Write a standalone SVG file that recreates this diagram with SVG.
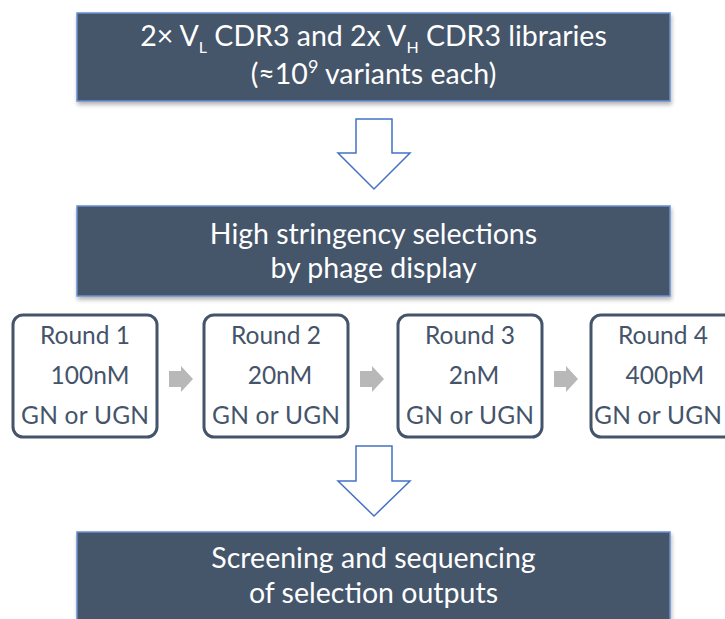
<svg xmlns="http://www.w3.org/2000/svg" width="725" height="619" viewBox="0 0 725 619">
<defs>
<style>
.hdr{fill:#44546A;stroke:#6A8FD0;stroke-width:1.5}
.ht{font-family:Lato,"Open Sans",sans-serif;font-size:28.5px;fill:#FFFFFF;text-anchor:middle}
.rb{fill:#FFFFFF;stroke:#44546A;stroke-width:3}
.rt{font-family:Lato,"Open Sans",sans-serif;font-size:24.5px;fill:#44546A;text-anchor:middle}
.down{fill:#FFFFFF;stroke:#4472C4;stroke-width:1.5;stroke-linejoin:miter}
.ga{fill:#B8B8B8}
</style>
<filter id="sh" x="-5%" y="-10%" width="110%" height="130%">
<feGaussianBlur in="SourceAlpha" stdDeviation="2"/>
<feOffset dx="1" dy="3" result="b"/>
<feComponentTransfer><feFuncA type="linear" slope="0.3"/></feComponentTransfer>
<feMerge><feMergeNode/><feMergeNode in="SourceGraphic"/></feMerge>
</filter>
</defs>
<rect width="725" height="619" fill="#FFFFFF"/>

<g id="libraries">
<rect class="hdr" x="77" y="13" width="593" height="88" filter="url(#sh)"/>
<text class="ht" x="373.5" y="46">2× V<tspan font-size="16" dy="7">L</tspan><tspan dy="-7"> CDR3 and 2x V</tspan><tspan font-size="16" dy="7">H</tspan><tspan dy="-7"> CDR3 libraries</tspan></text>
<text class="ht" x="373.5" y="84">(≈10<tspan font-size="18" dy="-11">9</tspan><tspan dy="11"> variants each)</tspan></text>
</g>

<g id="selections">
<rect class="hdr" x="77" y="206" width="593" height="90" filter="url(#sh)"/>
<text class="ht" x="373.5" y="244">High stringency selections</text>
<text class="ht" x="373.5" y="278">by phage display</text>
</g>

<g id="round1">
<rect class="rb" x="13" y="315" width="144" height="122" rx="10"/>
<text class="rt" x="85" y="344">Round 1</text>
<text class="rt" x="90" y="384">100nM</text>
<text class="rt" x="85" y="424" textLength="128">GN or UGN</text>
</g>
<g id="round2">
<rect class="rb" x="204" y="315" width="144" height="122" rx="10"/>
<text class="rt" x="276" y="344">Round 2</text>
<text class="rt" x="280" y="384">20nM</text>
<text class="rt" x="276" y="424" textLength="128">GN or UGN</text>
</g>
<g id="round3">
<rect class="rb" x="398" y="315" width="144" height="122" rx="10"/>
<text class="rt" x="470" y="344">Round 3</text>
<text class="rt" x="474" y="384">2nM</text>
<text class="rt" x="470" y="424" textLength="128">GN or UGN</text>
</g>
<g id="round4">
<rect class="rb" x="591" y="315" width="144" height="122" rx="10"/>
<text class="rt" x="663" y="344">Round 4</text>
<text class="rt" x="665" y="384">400pM</text>
<text class="rt" x="658" y="424" textLength="128">GN or UGN</text>
</g>

<g id="screening">
<rect class="hdr" x="77" y="532" width="593" height="100" filter="url(#sh)"/>
<text class="ht" x="373.5" y="568">Screening and sequencing</text>
<text class="ht" x="373.5" y="603">of selection outputs</text>
</g>

<g id="connectors">
<polygon class="down" points="356,119 392,119 392,153 410,153 374,189 338,153 356,153"/>
<polygon class="down" points="356,446 392,446 392,481 410,481 374,516 338,481 356,481"/>
<polygon class="ga" points="169,371 181,371 181,366 193,379 181,392 181,387 169,387"/>
<polygon class="ga" points="360,371 372,371 372,366 384,379 372,392 372,387 360,387"/>
<polygon class="ga" points="554,371 566,371 566,366 578,379 566,392 566,387 554,387"/>
</g>
</svg>
